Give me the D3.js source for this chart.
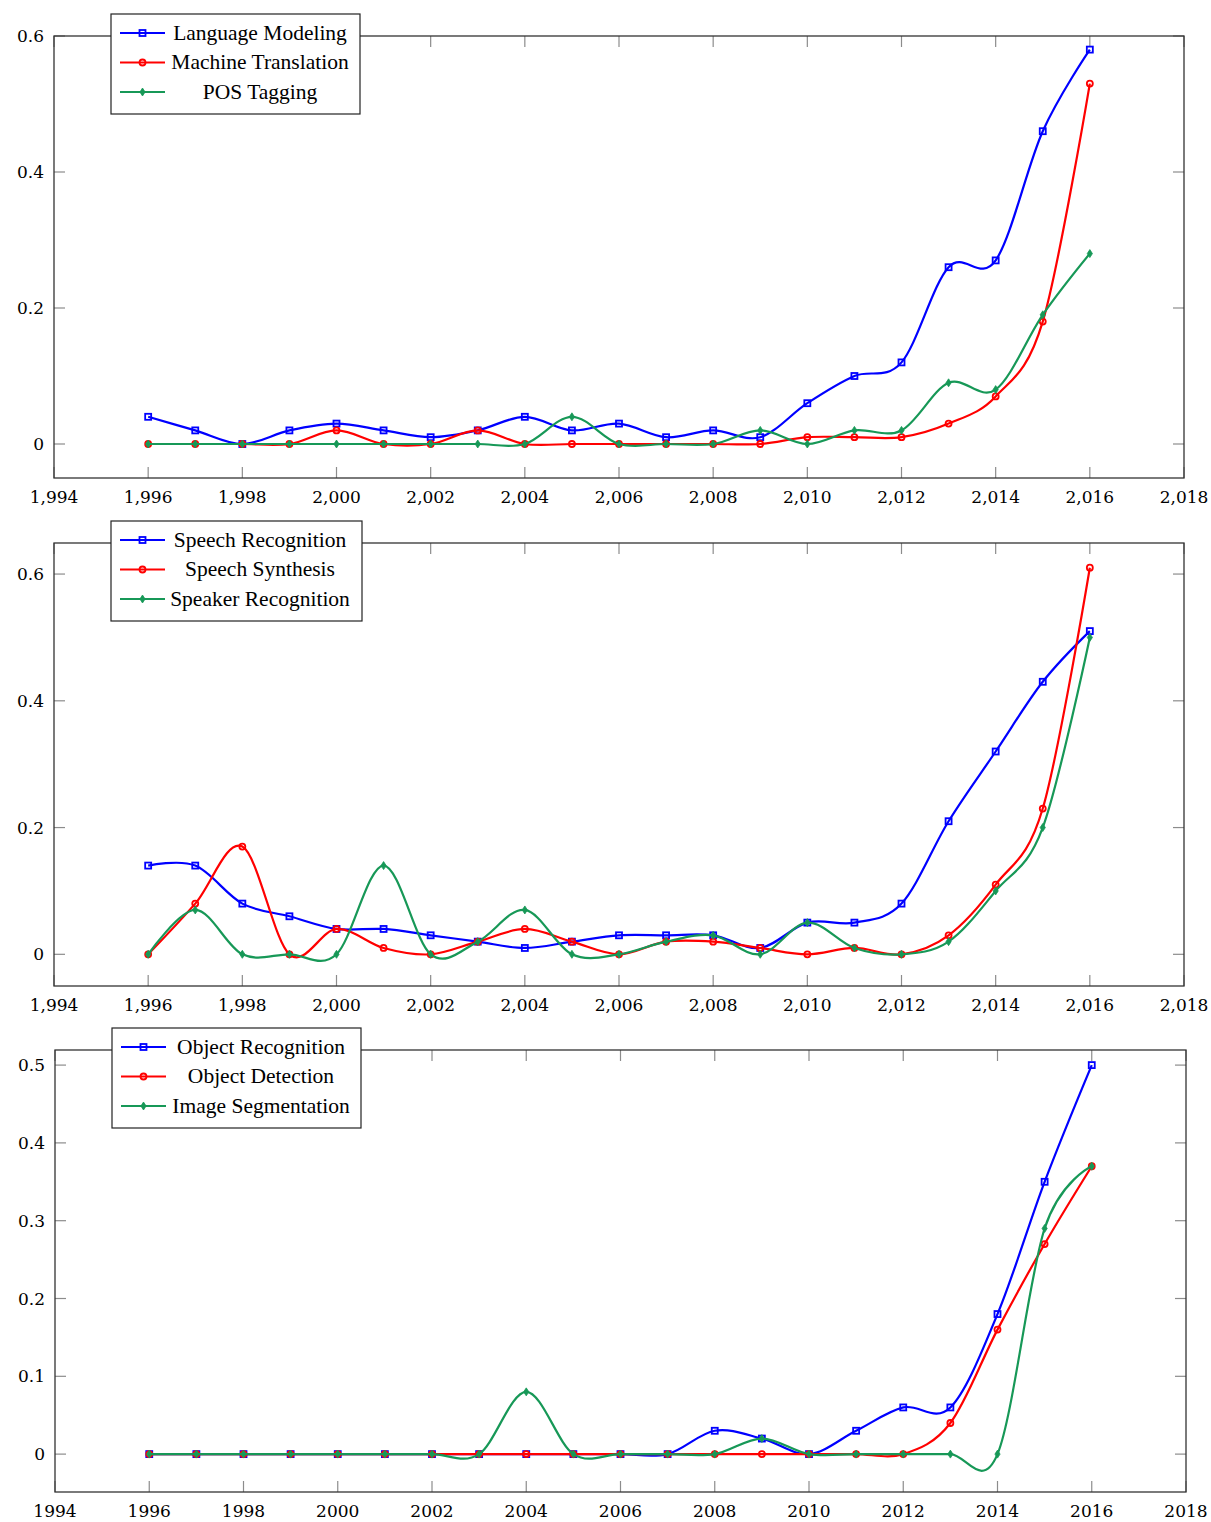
<!DOCTYPE html>
<html><head><meta charset="utf-8">
<script src="https://cdn.jsdelivr.net/npm/d3@7"></script>
<style>
body{margin:0;background:#fff;}
svg{display:block;}
text{fill:#000;}
.tick{font-family:"DejaVu Serif","Liberation Serif",serif;}
.leg{font-family:"Liberation Serif","DejaVu Serif",serif;}
</style></head>
<body><svg id="c" width="1211" height="1522"></svg>
<script>
const years = [1996,1997,1998,1999,2000,2001,2002,2003,2004,2005,2006,2007,2008,2009,2010,2011,2012,2013,2014,2015,2016];

// Panel 1
const p1Names = ["Language Modeling","Machine Translation","POS Tagging"];
const languageModeling   = [0.04,0.02,0,0.02,0.03,0.02,0.01,0.02,0.04,0.02,0.03,0.01,0.02,0.01,0.06,0.10,0.12,0.26,0.27,0.46,0.58];
const machineTranslation = [0,0,0,0,0.02,0,0,0.02,0,0,0,0,0,0,0.01,0.01,0.01,0.03,0.07,0.18,0.53];
const posTagging         = [0,0,0,0,0,0,0,0,0,0.04,0,0,0,0.02,0,0.02,0.02,0.09,0.08,0.19,0.28];

// Panel 2
const p2Names = ["Speech Recognition","Speech Synthesis","Speaker Recognition"];
const speechRecognition  = [0.14,0.14,0.08,0.06,0.04,0.04,0.03,0.02,0.01,0.02,0.03,0.03,0.03,0.01,0.05,0.05,0.08,0.21,0.32,0.43,0.51];
const speechSynthesis    = [0,0.08,0.17,0,0.04,0.01,0,0.02,0.04,0.02,0,0.02,0.02,0.01,0,0.01,0,0.03,0.11,0.23,0.61];
const speakerRecognition = [0,0.07,0,0,0,0.14,0,0.02,0.07,0,0,0.02,0.03,0,0.05,0.01,0,0.02,0.10,0.20,0.50];

// Panel 3
const p3Names = ["Object Recognition","Object Detection","Image Segmentation"];
const objectRecognition  = [0,0,0,0,0,0,0,0,0,0,0,0,0.03,0.02,0,0.03,0.06,0.06,0.18,0.35,0.50];
const objectDetection    = [0,0,0,0,0,0,0,0,0,0,0,0,0,0,0,0,0,0.04,0.16,0.27,0.37];
const imageSegmentation  = [0,0,0,0,0,0,0,0,0.08,0,0,0,0,0.02,0,0,0,0,0,0.29,0.37];

const xTicks = [1994,1996,1998,2000,2002,2004,2006,2008,2010,2012,2014,2016,2018];
const yTicks1 = [0,0.2,0.4,0.6];
const yTicks2 = [0,0.2,0.4,0.6];
const yTicks3 = [0,0.1,0.2,0.3,0.4,0.5];

const colors = ["#0000ff","#ff0000","#179857"];
const svg = d3.select("#c");

const panels = [
  {names:p1Names, series:[languageModeling,machineTranslation,posTagging], yTicks:yTicks1, yDom:[-0.05,0.6],
   box:{l:54,r:1184,t:36,b:478}, comma:true, fmtY:d3.format(".1f"), legend:{x:111,y:14,w:249,h:100}},
  {names:p2Names, series:[speechRecognition,speechSynthesis,speakerRecognition], yTicks:yTicks2, yDom:[-0.05,0.649],
   box:{l:54,r:1184,t:543,b:986}, comma:true, fmtY:d3.format(".1f"), legend:{x:111,y:521,w:251,h:100}},
  {names:p3Names, series:[objectRecognition,objectDetection,imageSegmentation], yTicks:yTicks3, yDom:[-0.0487,0.5194],
   box:{l:55,r:1186,t:1050,b:1492}, comma:false, fmtY:d3.format(".1f"), legend:{x:112,y:1028,w:249,h:100}}
];

function marker(g, i, x, y, c){
  if(i===0){
    g.append("rect").attr("x",x-3).attr("y",y-3).attr("width",6).attr("height",6)
      .attr("fill","none").attr("stroke",c).attr("stroke-width",1.8);
  } else if(i===1){
    g.append("circle").attr("cx",x).attr("cy",y).attr("r",3)
      .attr("fill","none").attr("stroke",c).attr("stroke-width",1.8);
  } else {
    g.append("path").attr("d",`M${x},${y-4}L${x+2.6},${y}L${x},${y+4}L${x-2.6},${y}Z`)
      .attr("fill",c).attr("stroke",c).attr("stroke-width",0.8);
  }
}

panels.forEach(p=>{
  const b = p.box;
  const x = d3.scaleLinear().domain([1994,2018]).range([b.l,b.r]);
  const y = d3.scaleLinear().domain(p.yDom).range([b.b,b.t]);
  const g = svg.append("g");
  const tickCol = "#8c8c8c", tl = 11;
  xTicks.forEach(t=>{
    const xx = x(t);
    g.append("line").attr("x1",xx).attr("x2",xx).attr("y1",b.b).attr("y2",b.b-tl).attr("stroke",tickCol).attr("stroke-width",1.2);
    g.append("line").attr("x1",xx).attr("x2",xx).attr("y1",b.t).attr("y2",b.t+tl).attr("stroke",tickCol).attr("stroke-width",1.2);
    g.append("text").attr("class","tick").attr("x",xx).attr("y",b.b+25).attr("text-anchor","middle").attr("font-size",17)
      .text(p.comma ? d3.format(",")(t) : String(t));
  });
  p.yTicks.forEach(t=>{
    const yy = y(t);
    g.append("line").attr("x1",b.l).attr("x2",b.l+tl).attr("y1",yy).attr("y2",yy).attr("stroke",tickCol).attr("stroke-width",1.2);
    g.append("line").attr("x1",b.r).attr("x2",b.r-tl).attr("y1",yy).attr("y2",yy).attr("stroke",tickCol).attr("stroke-width",1.2);
    g.append("text").attr("class","tick").attr("x",b.l-10).attr("y",yy+6).attr("text-anchor","end").attr("font-size",17)
      .text(t===0 ? "0" : p.fmtY(t));
  });
  g.append("rect").attr("x",b.l).attr("y",b.t).attr("width",b.r-b.l).attr("height",b.b-b.t)
    .attr("fill","none").attr("stroke","#333").attr("stroke-width",1.3);
  const line = d3.line().x((d,i)=>x(years[i])).y(d=>y(d)).curve(d3.curveCardinal.tension(0));
  p.series.forEach((s,si)=>{
    const sg = g.append("g");
    sg.append("path").attr("d",line(s)).attr("fill","none").attr("stroke",colors[si]).attr("stroke-width",2.2);
    s.forEach((v,i)=>marker(sg,si,x(years[i]),y(v),colors[si]));
  });
  const L = p.legend;
  const lg = g.append("g");
  lg.append("rect").attr("x",L.x).attr("y",L.y).attr("width",L.w).attr("height",L.h)
    .attr("fill","#fff").attr("stroke","#222").attr("stroke-width",1.2);
  p.names.forEach((n,i)=>{
    const yy = L.y + 19 + i*29.5;
    lg.append("line").attr("x1",L.x+9).attr("x2",L.x+54).attr("y1",yy).attr("y2",yy).attr("stroke",colors[i]).attr("stroke-width",2.2);
    marker(lg,i,L.x+31.5,yy,colors[i]);
    lg.append("text").attr("class","leg").attr("x",L.x+149).attr("y",yy+6.5).attr("text-anchor","middle").attr("font-size",21.5).text(n);
  });
});
</script></body></html>
